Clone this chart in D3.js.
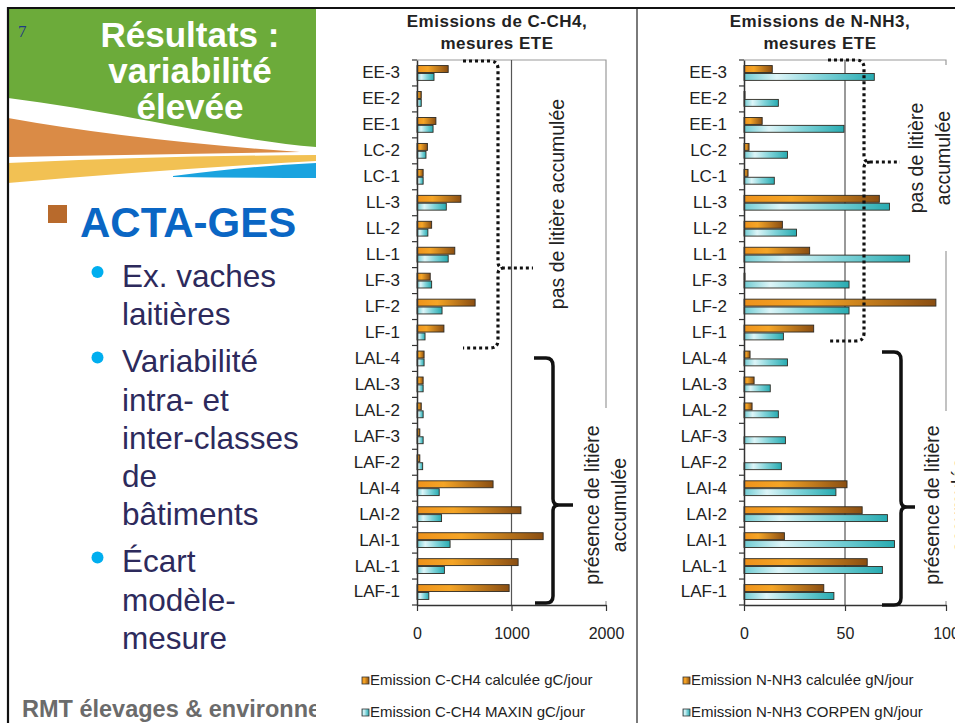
<!DOCTYPE html>
<html>
<head>
<meta charset="utf-8">
<script src="https://cdn.jsdelivr.net/npm/d3@7"></script>
<style>
  body { margin: 0; background: #fff; }
  svg { display: block; font-family: Arial, "Liberation Sans", sans-serif; }
</style>
</head>
<body>
<svg id="slide" width="955" height="723"></svg>
<script>

// categories, top to bottom as on the slide
var categories = ['EE-3','EE-2','EE-1','LC-2','LC-1','LL-3','LL-2','LL-1','LF-3','LF-2','LF-1',
                  'LAL-4','LAL-3','LAL-2','LAF-3','LAF-2','LAI-4','LAI-2','LAI-1','LAL-1','LAF-1'];

// C-CH4, gC/jour
var ch4Calc  = [330, 45, 200, 110, 65, 465, 155, 400, 140, 615, 285, 75, 65, 45, 30, 30, 805, 1100, 1335, 1070, 975];
var ch4Maxin = [180, 45, 170, 95, 65, 310, 115, 330, 155, 265, 85, 75, 65, 65, 65, 60, 235, 260, 350, 290, 125];

// N-NH3, gN/jour
var nh3Calc   = [14, 0.5, 9, 2.5, 2, 67, 19, 32.5, 0.5, 95, 34.5, 3, 5, 4, 0, 0, 51, 58.5, 20, 61, 39.5];
var nh3Corpen = [64.5, 17, 49.5, 21.5, 15, 72, 26, 82, 52, 52, 19.5, 21.5, 13, 17, 20.5, 18.5, 45.5, 71, 74.5, 68.5, 44.5];

var ch4Ticks = [0, 1000, 2000];
var nh3Ticks = [0, 50, 100];

var bullets = [
  ['Ex. vaches', 'laitières'],
  ['Variabilité', 'intra- et', 'inter-classes', 'de', 'bâtiments'],
  ['Écart', 'modèle-', 'mesure']
];

var svg = d3.select('#slide');
var defs = svg.append('defs');

function gradient(id, stops) {
  var lg = defs.append('linearGradient')
      .attr('id', id)
      .attr('x1', 0).attr('x2', 1).attr('y1', 0).attr('y2', 0);
  stops.forEach(function(s){
    lg.append('stop').attr('offset', s[0]).attr('stop-color', s[1]);
  });
}
gradient('gOrange', [[0, '#EE921B'], [0.35, '#F5A526'], [1, '#8A4E12']]);
gradient('gCyan', [[0, '#6FCBD2'], [0.25, '#DDF5F8'], [0.6, '#7ED2D8'], [1, '#27ABB1']]);

// ---------- left side of the slide ----------
var left = svg.append('g');

left.append('path').attr('fill', '#6CAB3A')
    .attr('d', 'M8,9 H316 V147 C230,140 120,112 8,98 Z');
left.append('path').attr('fill', '#DA8B46')
    .attr('d', 'M8,118 Q130,140 300,152 L8,157 Z');
left.append('path').attr('fill', '#F2C153')
    .attr('d', 'M8,163 Q160,156 316,155 V161 Q160,170 8,183 Z');
left.append('path').attr('fill', '#1AA3DF')
    .attr('d', 'M173,176 Q250,166 316,163 V178 Q250,178 173,177 Z');

left.append('text')
    .attr('x', 18).attr('y', 37)
    .attr('font-family', '"Liberation Serif", "DejaVu Serif", serif')
    .attr('font-size', 17)
    .attr('fill', '#1F3B84')
    .text('7');

['Résultats :', 'variabilité', 'élevée'].forEach(function(t, i){
  left.append('text')
      .attr('x', 190).attr('y', 47 + i * 36)
      .attr('text-anchor', 'middle')
      .attr('font-weight', 'bold')
      .attr('font-size', 35)
      .attr('fill', '#fff')
      .text(t);
});

left.append('rect')
    .attr('x', 48).attr('y', 205).attr('width', 19).attr('height', 18)
    .attr('fill', '#B86A2C');
left.append('text')
    .attr('x', 80).attr('y', 237)
    .attr('font-weight', 'bold')
    .attr('font-size', 42)
    .attr('fill', '#0A66C4')
    .text('ACTA-GES');

var lineY = 287;
bullets.forEach(function(lines, b){
  left.append('circle')
      .attr('cx', 97.5).attr('cy', lineY - 15).attr('r', 6)
      .attr('fill', '#00AEEF');
  lines.forEach(function(t){
    left.append('text')
        .attr('x', 122).attr('y', lineY)
        .attr('font-size', 31.5)
        .attr('fill', '#2D2A5C')
        .text(t);
    lineY += 38.2;
  });
  lineY += 9;
});

left.append('text')
    .attr('x', 22).attr('y', 717)
    .attr('font-weight', 'bold')
    .attr('font-size', 23.5)
    .attr('fill', '#6B6B6B')
    .text('RMT élevages & environnement');

// ---------- chart area ----------
svg.append('rect')
    .attr('x', 316).attr('y', 9).attr('width', 639).attr('height', 714)
    .attr('fill', '#fff');

function drawChart(cfg) {
  var g = svg.append('g');

  var x = d3.scaleLinear().domain([0, cfg.ticks[2]]).range(cfg.xRange);
  var y = d3.scaleBand().domain(categories).range([60, 605])
      .paddingInner(0.43).paddingOuter(0.215);
  var ys = d3.scaleBand().domain([0, 1]).range([0, y.bandwidth()]).paddingInner(0.12);

  var x0 = x.range()[0], x1 = x.range()[1];
  var yTop = y.range()[0], yBot = y.range()[1];

  // plot frame (gray)
  g.append('path')
      .attr('fill', 'none').attr('stroke', '#9a9a9a').attr('stroke-width', 1.2)
      .attr('d', 'M' + x0 + ',' + yTop + 'H' + x1 + 'V' + yBot);

  // text boxes hiding parts of the frame
  cfg.boxes.forEach(function(b){
    g.append('rect').attr('x', b[0]).attr('y', b[1]).attr('width', b[2]).attr('height', b[3])
        .attr('fill', '#fff');
  });

  // middle gridline
  g.append('line')
      .attr('x1', x(cfg.ticks[1])).attr('x2', x(cfg.ticks[1]))
      .attr('y1', yTop).attr('y2', yBot)
      .attr('stroke', '#555').attr('stroke-width', 1.2);

  // bars
  var series = [cfg.s1, cfg.s2];
  var fills = ['url(#gOrange)', 'url(#gCyan)'];
  series.forEach(function(vals, k){
    g.append('g').selectAll('rect')
        .data(vals)
        .enter().append('rect')
        .attr('x', x(0))
        .attr('y', function(d, i){ return y(categories[i]) + ys(k); })
        .attr('width', function(d){ return x(d) - x(0); })
        .attr('height', ys.bandwidth())
        .attr('fill', fills[k])
        .attr('stroke', '#2e2a22')
        .attr('stroke-width', 0.9);
  });

  // y axis
  var yAxis = g.append('g')
      .attr('transform', 'translate(' + x0 + ',0)')
      .call(d3.axisLeft(y).tickSize(0).tickSizeOuter(0).tickPadding(17));
  yAxis.select('.domain').attr('stroke', '#333').attr('stroke-width', 1.5);
  yAxis.selectAll('text').attr('font-size', 17).attr('fill', '#222')
      .attr('font-family', 'Arial, "Liberation Sans", sans-serif');
  d3.range(categories.length + 1).forEach(function(i){
    var yy = yTop + i * y.step();
    yAxis.append('line').attr('x1', -5).attr('x2', 0).attr('y1', yy).attr('y2', yy)
        .attr('stroke', '#333').attr('stroke-width', 1.2);
  });

  // x axis
  var xAxis = g.append('g')
      .attr('transform', 'translate(0,' + yBot + ')')
      .call(d3.axisBottom(x).tickValues(cfg.ticks).tickSize(6).tickSizeOuter(0).tickPadding(17)
            .tickFormat(d3.format('d')));
  xAxis.select('.domain').attr('stroke', '#333').attr('stroke-width', 1.5);
  xAxis.selectAll('line').attr('stroke', '#333').attr('stroke-width', 1.2);
  xAxis.selectAll('text').attr('font-size', 16).attr('fill', '#222')
      .attr('font-family', 'Arial, "Liberation Sans", sans-serif');

  // titles
  cfg.title.forEach(function(t, i){
    g.append('text')
        .attr('x', cfg.titleX).attr('y', 27 + i * 21.5)
        .attr('text-anchor', 'middle')
        .attr('font-weight', 'bold')
        .attr('font-size', 17)
        .attr('letter-spacing', 0.5)
        .attr('fill', '#222')
        .text(t);
  });

  // brackets
  g.append('path').attr('d', cfg.dotted)
      .attr('fill', 'none').attr('stroke', '#111').attr('stroke-width', 3.2)
      .attr('stroke-dasharray', '3,3');
  g.append('path').attr('d', cfg.brace)
      .attr('fill', 'none').attr('stroke', '#111').attr('stroke-width', 3.5);

  // rotated notes
  cfg.notes.forEach(function(n){
    var t = g.append('text')
        .attr('transform', 'translate(' + n.x + ',' + n.y + ') rotate(-90)')
        .attr('text-anchor', 'middle')
        .attr('font-size', 19.5)
        .attr('fill', '#222');
    n.lines.forEach(function(l, i){
      t.append('tspan').attr('x', 0).attr('y', i * 27).text(l);
    });
  });

  // legend
  cfg.legend.forEach(function(l, i){
    g.append('rect')
        .attr('x', cfg.legendX).attr('y', 677 + i * 32).attr('width', 7).attr('height', 7)
        .attr('fill', fills[i]).attr('stroke', '#333').attr('stroke-width', 0.8);
    g.append('text')
        .attr('x', cfg.legendX + 8).attr('y', 684.5 + i * 32)
        .attr('font-size', 15)
        .attr('fill', '#222')
        .text(l);
  });
}

drawChart({
  xRange: [417, 606],
  ticks: ch4Ticks,
  s1: ch4Calc,
  s2: ch4Maxin,
  title: ['Emissions de C-CH4,', 'mesures ETE'],
  titleX: 497,
  boxes: [[578, 408, 58, 193]],
  dotted: 'M463,61 H490 Q498,61 498,69 V262 Q498,268 504,268 H533 M504,268 Q498,268 498,274 V340 Q498,348 490,348 H463',
  brace: 'M534,358 H546 Q553,358 553,366 V499 Q553,505 559,505 H573 M559,505 Q553,505 553,511 V596 Q553,603 546,603 H535',
  notes: [
    { x: 564, y: 204, lines: ['pas de litière accumulée'] },
    { x: 599, y: 505, lines: ['présence de litière', 'accumulée'] }
  ],
  legend: ['Emission C-CH4 calculée gC/jour', 'Emission C-CH4 MAXIN gC/jour'],
  legendX: 362
});

drawChart({
  xRange: [744, 946],
  ticks: nh3Ticks,
  s1: nh3Calc,
  s2: nh3Corpen,
  title: ['Emissions de N-NH3,', 'mesures ETE'],
  titleX: 820,
  boxes: [[905, 65, 50, 186], [912, 411, 43, 190]],
  dotted: 'M828,60 H856 Q864,60 864,68 V156 Q864,162 870,162 H900 M870,162 Q864,162 864,168 V333 Q864,341 856,341 H828',
  brace: 'M882,352 H894 Q901,352 901,360 V501 Q901,507 907,507 H915 M907,507 Q901,507 901,513 V598 Q901,605 894,605 H882',
  notes: [
    { x: 923, y: 158, lines: ['pas de litière', 'accumulée'] },
    { x: 939, y: 505, lines: ['présence de litière', 'accumulée'] }
  ],
  legend: ['Emission N-NH3 calculée gN/jour', 'Emission N-NH3 CORPEN gN/jour'],
  legendX: 683
});

// divider between the two charts
svg.append('line')
    .attr('x1', 637).attr('x2', 637).attr('y1', 9).attr('y2', 723)
    .attr('stroke', '#7a7a7a').attr('stroke-width', 2);

// slide border
svg.append('path')
    .attr('fill', 'none').attr('stroke', '#111').attr('stroke-width', 2.2)
    .attr('d', 'M8,723 V8 H955');

</script>
</body>
</html>
